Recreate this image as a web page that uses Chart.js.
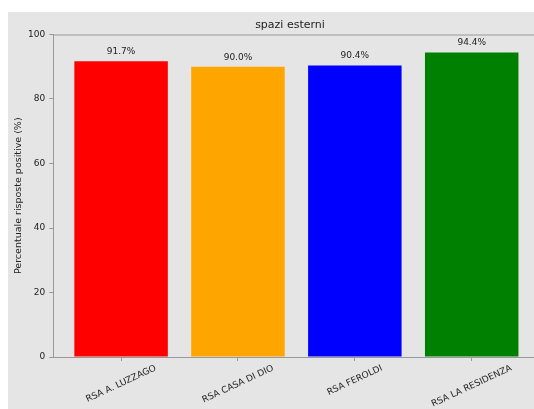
<!DOCTYPE html>
<html>
<head>
<meta charset="utf-8">
<script src="https://cdn.jsdelivr.net/npm/chart.js@4"></script>
<style>
  html, body { margin: 0; padding: 0; background: #fff; overflow: hidden; }
  #wrap { position: relative; width: 560px; height: 409px; }
</style>
</head>
<body>
<div id="wrap"><canvas id="chart"></canvas></div>
<script>
// data
const categories = ['RSA A. LUZZAGO', 'RSA CASA DI DIO', 'RSA FEROLDI', 'RSA LA RESIDENZA'];
const values = [91.7, 90.0, 90.4, 94.4];
const barColors = ['#ff0000', '#ffa500', '#0000ff', '#008000'];
const yTicks = [0, 20, 40, 60, 80, 100];

const FONT = 'DejaVu Sans';
const TEXT = '#222';
const SPINE = '#999';

// gray figure background, top spine, bar labels, rotated category labels, title
const decor = {
    id: 'decor',
    beforeDraw(chart) {
        const ctx = chart.ctx;
        ctx.save();
        ctx.fillStyle = '#e5e5e5';
        ctx.fillRect(8, 12, chart.width - 8, chart.height - 12);
        ctx.restore();
    },
    afterDatasetsDraw(chart) {
        const ctx = chart.ctx;
        const meta = chart.getDatasetMeta(0);
        ctx.save();
        ctx.font = `9px "${FONT}"`;
        ctx.fillStyle = TEXT;
        ctx.textAlign = 'center';
        ctx.textBaseline = 'middle';
        meta.data.forEach((bar, i) => {
            ctx.fillText(values[i].toFixed(1) + '%', bar.x, bar.y - 9.5);
        });
        ctx.restore();
    },
    afterDraw(chart) {
        const ctx = chart.ctx;
        const area = chart.chartArea;
        const xs = chart.scales.x;
        ctx.save();
        // top spine
        ctx.strokeStyle = SPINE;
        ctx.lineWidth = 1;
        ctx.beginPath();
        ctx.moveTo(area.left, area.top + 0.5);
        ctx.lineTo(area.right, area.top + 0.5);
        ctx.stroke();

        // category labels, rotated 25deg, centred on the tick
        ctx.font = `9px "${FONT}"`;
        ctx.fillStyle = TEXT;
        ctx.textAlign = 'center';
        ctx.textBaseline = 'middle';
        const ang = 25 * Math.PI / 180;
        categories.forEach((c, i) => {
            const w = ctx.measureText(c).width;
            const h = w * Math.sin(ang) + 10.5 * Math.cos(ang);
            const cx = xs.getPixelForValue(i);
            const cy = area.bottom + 6 + h / 2;
            ctx.save();
            ctx.translate(cx, cy);
            ctx.rotate(-ang);
            ctx.fillText(c, 0, 0);
            ctx.restore();
        });

        // title
        ctx.font = `11px "${FONT}"`;
        ctx.fillText('spazi esterni', 290, 25);
        ctx.restore();
    }
};

new Chart(document.getElementById('chart'), {
    type: 'bar',
    data: {
        datasets: [{
            data: values.map((v, i) => ({ x: i, y: v })),
            backgroundColor: barColors,
            borderWidth: 0,
            categoryPercentage: 1.0,
            barPercentage: 0.8
        }]
    },
    options: {
        responsive: true,
        maintainAspectRatio: false,
        animation: false,
        layout: { padding: { left: 8, top: 34.5, right: 20.5, bottom: 0 } },
        plugins: {
            legend: { display: false },
            tooltip: { enabled: false },
            title: { display: false }
        },
        scales: {
            x: {
                type: 'linear',
                offset: false,
                min: -0.58,
                max: 3.58,
                afterBuildTicks: s => { s.ticks = [0, 1, 2, 3].map(v => ({ value: v })); },
                afterFit: s => { s.height = 52; },
                ticks: { display: false, stepSize: 1 },
                grid: { offset: false, drawOnChartArea: false, drawTicks: true, tickLength: 4, color: SPINE },
                border: { display: true, color: SPINE, width: 1 }
            },
            y: {
                min: 0,
                max: 100,
                afterBuildTicks: s => { s.ticks = yTicks.map(v => ({ value: v })); },
                afterFit: s => { s.width = 45.3; },
                ticks: { font: { family: FONT, size: 9 }, color: TEXT, padding: 4 },
                grid: { drawOnChartArea: false, drawTicks: true, tickLength: 4, color: SPINE },
                border: { display: true, color: SPINE, width: 1 },
                title: {
                    display: true,
                    text: 'Percentuale risposte positive (%)',
                    font: { family: FONT, size: 9.5 },
                    color: TEXT,
                    padding: { top: 4.5, bottom: 0 }
                }
            }
        }
    },
    plugins: [decor]
});
</script>
</body>
</html>
